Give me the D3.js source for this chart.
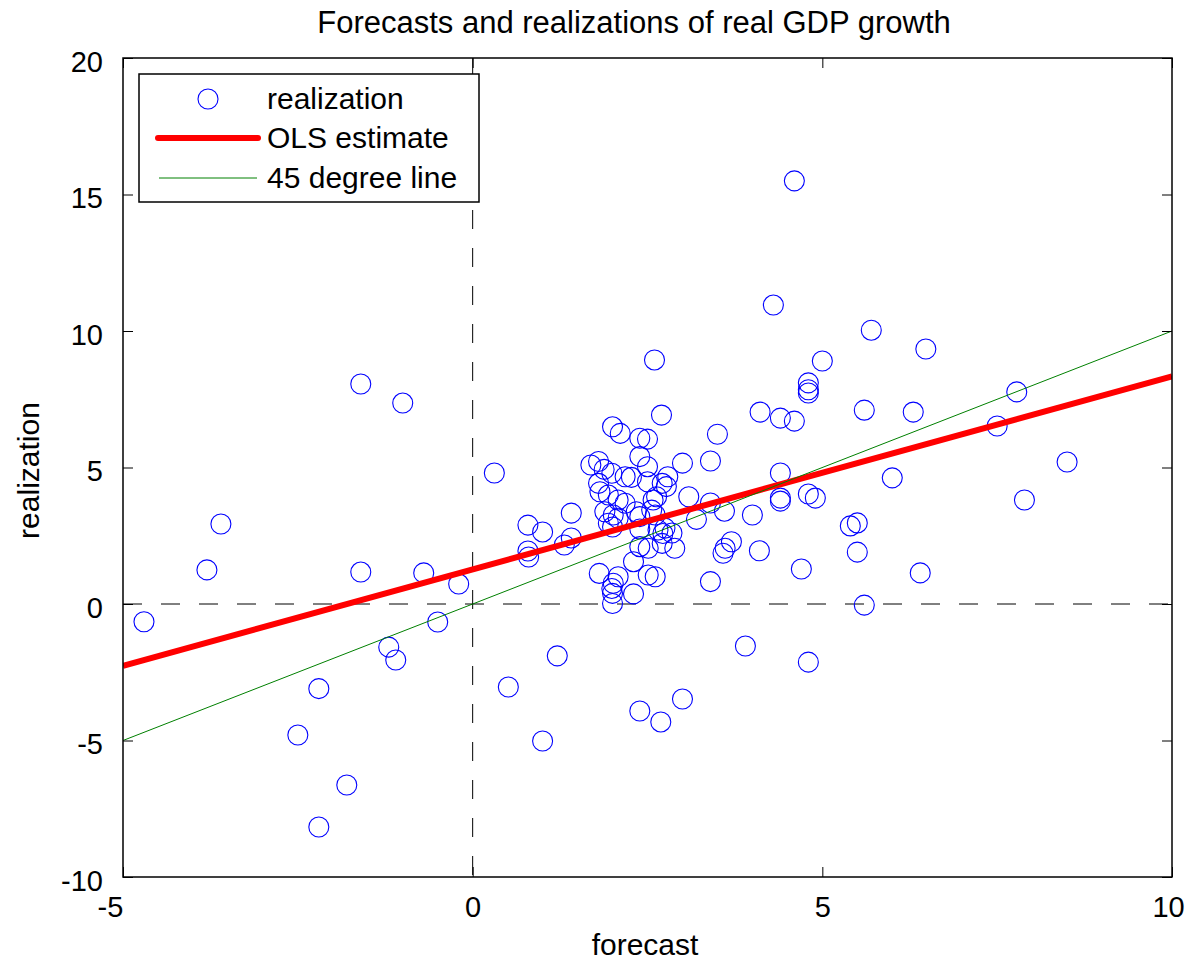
<!DOCTYPE html>
<html>
<head>
<meta charset="utf-8">
<script src="https://cdn.jsdelivr.net/npm/d3@7/dist/d3.min.js"></script>
<style>
  body { margin: 0; background: #fff; }
  svg text { font-family: 'Liberation Sans', Arial, sans-serif; fill: #000; }
</style>
</head>
<body>
<div id="chart"></div>
<script>
// forecast / realization pairs
const forecast = [
  -4.7, -3.8, -3.6, -2.5, -2.2, -2.2, -1.8, -1.6, -1.6, -1.0, -1.2, -1.1, -0.7, -0.5, -0.2,
  0.31, 0.51, 0.79, 0.79, 0.8, 1.0, 1.0, 1.21, 1.31, 1.41, 1.41,
  1.69, 1.8, 1.88, 1.99, 2.18, 2.27, 2.39, 2.5, 3.0, 2.5, 2.79, 2.71, 2.77,
  1.8, 1.82, 1.94, 2.08, 2.18, 2.58, 2.63, 3.09,
  1.89, 2.01, 2.08, 2.34, 2.39, 2.56, 2.61, 1.94, 3.2, 2.65, 2.75,
  2.0, 2.11, 2.39, 2.5, 2.7, 3.5, 3.4, 2.6,
  2.0, 2.39, 2.72, 2.85, 2.39, 2.51, 2.71, 2.89, 2.3, 1.81, 2.08, 2.01, 1.99, 2.0, 2.0, 2.3, 2.51, 2.61,
  3.4, 3.6, 4.0, 4.4, 4.4, 4.4, 3.7, 3.61, 3.58, 4.1, 3.4,
  4.3, 4.6, 5.7, 6.48, 5.0, 4.8, 4.8, 4.8, 4.11, 5.6, 6.3, 4.4, 4.6, 7.78, 7.5, 8.5, 6.0,
  4.8, 4.9, 7.89, 5.4, 5.5, 5.5, 4.7, 6.4, 5.6, 3.9, 4.8, 3.0, 2.39, 2.69
];
const realization = [
  -0.65, 1.25, 2.93, -4.8, -3.1, -8.17, -6.63, 8.06, 1.17, 7.36, -1.58, -2.05, 1.14, -0.66, 0.73,
  4.8, -3.04, 2.89, 1.94, 1.72, 2.64, -5.02, -1.9, 2.16, 3.33, 2.42,
  5.09, 5.22, 4.93, 4.79, 4.66, 4.64, 5.4, 5.03, 5.16, 4.48, 4.66, 4.42, 4.3,
  4.42, 4.11, 3.99, 3.81, 3.69, 3.81, 3.93, 3.93,
  3.38, 3.26, 3.14, 3.38, 3.2, 3.44, 3.26, 2.96, 3.1, 2.71, 2.78,
  6.49, 6.25, 6.07, 6.04, 6.92, 6.22, 5.24, 8.94,
  2.82, 2.75, 2.58, 2.6, 2.1, 2.04, 2.22, 2.04, 1.55, 1.12, 1.0, 0.76, 0.57, 0.39, 0.02, 0.37, 1.06, 1.0,
  3.7, 3.4, 3.26, 4.8, 3.88, 3.77, 2.28, 2.04, 1.86, 1.95, 0.82,
  10.95, 15.5, 10.03, 9.34, 8.9, 8.1, 7.85, 7.73, 7.03, 7.1, 7.03, 6.81, 6.7, 7.77, 6.52, 5.2, 4.62,
  4.03, 3.88, 3.81, 2.86, 2.97, 1.9, 1.28, 1.14, -0.04, -1.54, -2.13, -3.48, -3.92, -4.32
];
const xTicks = [-5, 0, 5, 10];
const yTicks = [-10, -5, 0, 5, 10, 15, 20];
const xDomain = [-5, 10];
const yDomain = [-10, 20];
const olsIntercept = 1.27;  // fitted line
const olsSlope = 0.707;
const legendLabels = ['realization', 'OLS estimate', '45 degree line'];

const W = 1193, H = 960;
const margin = { top: 58, right: 21, bottom: 83, left: 123 };
const iw = W - margin.left - margin.right;
const ih = H - margin.top - margin.bottom;
const tickFs = 29, labelFs = 30;

const x = d3.scaleLinear().domain(xDomain).range([0, iw]);
const y = d3.scaleLinear().domain(yDomain).range([ih, 0]);

const svg = d3.select('#chart').append('svg')
  .attr('width', W).attr('height', H);

svg.append('defs').append('clipPath').attr('id', 'clip')
  .append('rect').attr('width', iw).attr('height', ih);

const g = svg.append('g').attr('transform', `translate(${margin.left},${margin.top})`);

// dashed zero lines
g.append('line')
  .attr('x1', 0).attr('x2', iw).attr('y1', y(0)).attr('y2', y(0))
  .attr('stroke', '#000').attr('stroke-width', 1).attr('stroke-dasharray', '19,19');
g.append('line')
  .attr('x1', x(0)).attr('x2', x(0)).attr('y1', 0).attr('y2', ih)
  .attr('stroke', '#000').attr('stroke-width', 1).attr('stroke-dasharray', '19,19');

const plot = g.append('g').attr('clip-path', 'url(#clip)');

// scatter
const pts = forecast.map((f, i) => ({ f, r: realization[i] }));
plot.selectAll('.pt')
  .data(pts)
  .join('circle')
  .attr('class', 'pt')
  .attr('cx', d => x(d.f))
  .attr('cy', d => y(d.r))
  .attr('r', 10)
  .attr('fill', 'none')
  .attr('stroke', '#0000ff')
  .attr('stroke-width', 1.1);

// OLS line
plot.append('line')
  .attr('x1', x(xDomain[0])).attr('y1', y(olsIntercept + olsSlope * xDomain[0]))
  .attr('x2', x(xDomain[1])).attr('y2', y(olsIntercept + olsSlope * xDomain[1]))
  .attr('stroke', '#ff0000').attr('stroke-width', 6);

// 45 degree line
plot.append('line')
  .attr('x1', x(xDomain[0])).attr('y1', y(xDomain[0]))
  .attr('x2', x(xDomain[1])).attr('y2', y(xDomain[1]))
  .attr('stroke', '#008000').attr('stroke-width', 1);

// axes, ticks inward on all four sides
const tick = 10;
const fmt = d => String(d);  // plain hyphen minus like the original
const styleAxis = sel => {
  sel.select('.domain').remove();
  sel.selectAll('.tick line').attr('stroke', '#000').attr('stroke-width', 1);
  sel.selectAll('.tick text').style('font-size', tickFs + 'px').attr('fill', '#000');
};
g.append('g').attr('transform', `translate(0,${ih})`)
  .call(d3.axisBottom(x).tickValues(xTicks).tickSizeInner(-tick).tickSizeOuter(0).tickPadding(19.5).tickFormat(fmt))
  .call(styleAxis)
  .selectAll('.tick text').attr('dx', d => d === xDomain[0] ? -13 : (d === xDomain[1] ? -4 : 0));
g.append('g')
  .call(d3.axisTop(x).tickValues(xTicks).tickSizeInner(-tick).tickSizeOuter(0).tickFormat(''))
  .call(styleAxis);
g.append('g')
  .call(d3.axisLeft(y).tickValues(yTicks).tickSizeInner(-tick).tickSizeOuter(0).tickPadding(20).tickFormat(fmt))
  .call(styleAxis)
  .selectAll('.tick text').attr('dy', '0.46em');
g.append('g').attr('transform', `translate(${iw},0)`)
  .call(d3.axisRight(y).tickValues(yTicks).tickSizeInner(-tick).tickSizeOuter(0).tickFormat(''))
  .call(styleAxis);

g.append('rect')
  .attr('width', iw).attr('height', ih)
  .attr('fill', 'none').attr('stroke', '#000').attr('stroke-width', 1.5);

// titles
svg.append('text')
  .attr('x', 634).attr('y', 33)
  .attr('text-anchor', 'middle').style('font-size', '31px')
  .text('Forecasts and realizations of real GDP growth');
svg.append('text')
  .attr('x', 645).attr('y', 955)
  .attr('text-anchor', 'middle').style('font-size', labelFs + 'px')
  .text('forecast');
svg.append('text')
  .attr('transform', `translate(39,${margin.top + ih / 2 + 3}) rotate(-90)`)
  .attr('text-anchor', 'middle').style('font-size', labelFs + 'px')
  .text('realization');

// legend
const lg = svg.append('g').attr('transform', 'translate(139,74)');
lg.append('rect').attr('width', 340).attr('height', 128)
  .attr('fill', '#fff').attr('stroke', '#000').attr('stroke-width', 1.5);
const rowY = [25, 64, 104];
lg.append('circle').attr('cx', 69).attr('cy', rowY[0]).attr('r', 10)
  .attr('fill', 'none').attr('stroke', '#0000ff').attr('stroke-width', 1.1);
lg.append('line').attr('x1', 19).attr('x2', 119).attr('y1', rowY[1]).attr('y2', rowY[1])
  .attr('stroke', '#ff0000').attr('stroke-width', 6).attr('stroke-linecap', 'round');
lg.append('line').attr('x1', 20).attr('x2', 118).attr('y1', rowY[2]).attr('y2', rowY[2])
  .attr('stroke', '#008000').attr('stroke-width', 1);
lg.selectAll('.lt')
  .data(legendLabels)
  .join('text')
  .attr('class', 'lt')
  .attr('x', 128)
  .attr('y', (d, i) => rowY[i] + 10)
  .style('font-size', labelFs + 'px')
  .text(d => d);
</script>
</body>
</html>
